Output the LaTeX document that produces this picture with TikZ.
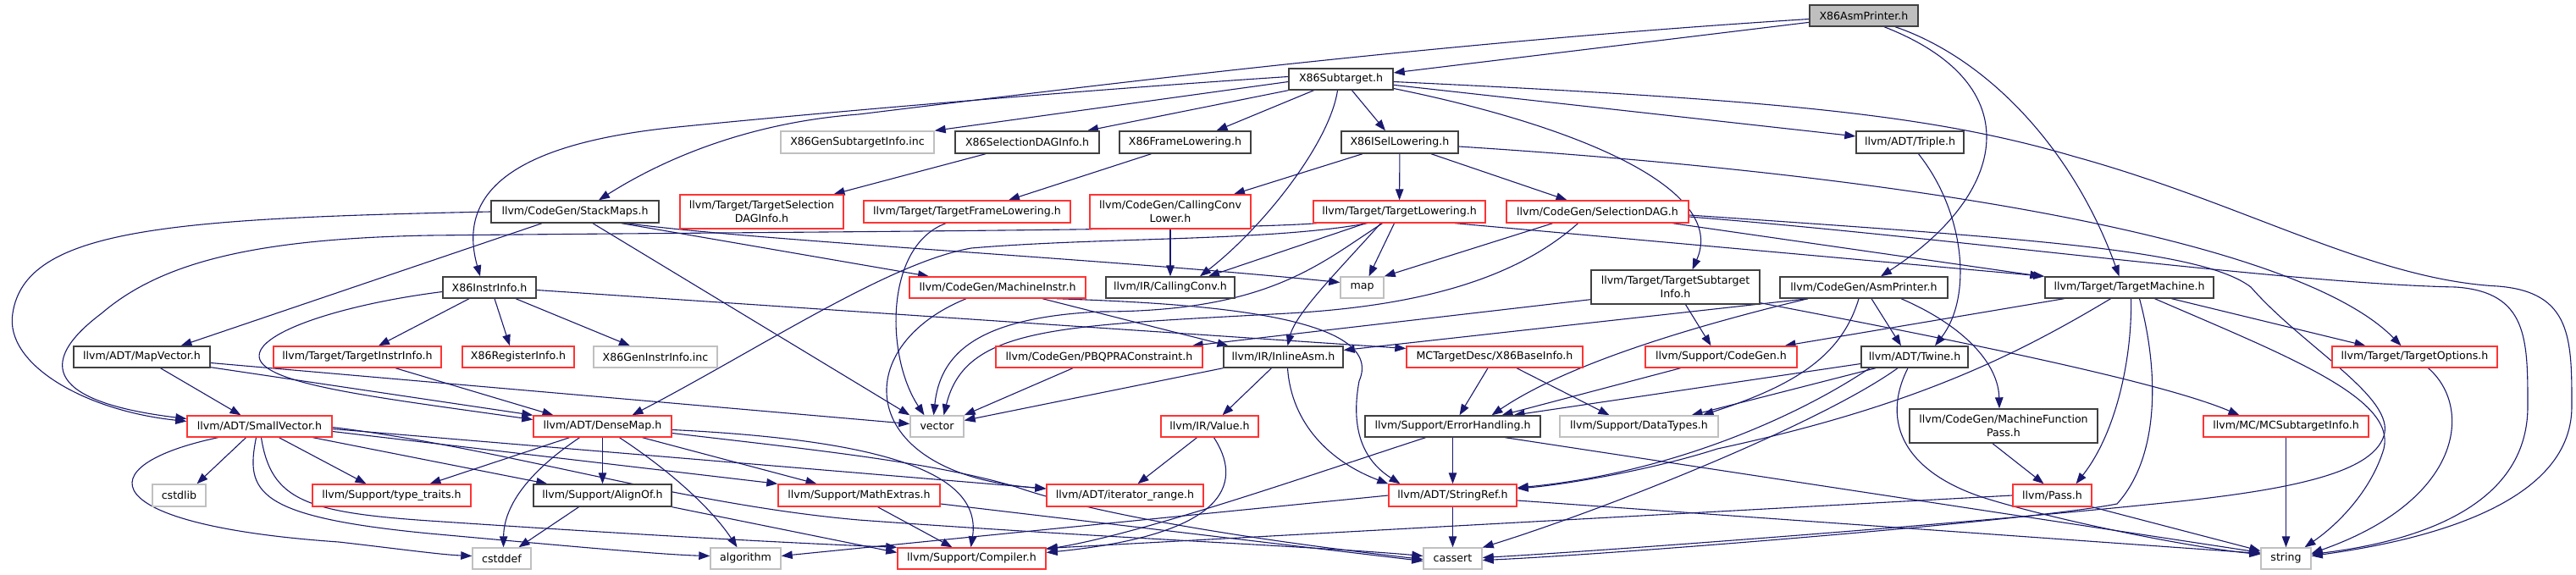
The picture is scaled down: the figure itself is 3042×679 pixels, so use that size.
\documentclass[tikz,border=0pt]{standalone}
\usepackage{fontspec}
\setmainfont{DejaVu Sans}
\usetikzlibrary{arrows.meta}
\definecolor{edgecol}{HTML}{191970}
\definecolor{redb}{HTML}{FF3333}
\definecolor{grayb}{HTML}{C0C0C0}
\definecolor{blkb}{HTML}{404040}
\definecolor{fillg}{HTML}{BFBFBF}
\pgfdeclarelayer{background}
\pgfsetlayers{background,main}
\tikzset{
  box/.style={draw, line width=1.4pt, fill=white, inner sep=0pt, align=center, text=black},
  blkbox/.style={box, draw=blkb},
  redbox/.style={box, draw=redb},
  graybox/.style={box, draw=grayb},
  sz/.style 2 args={minimum width=#1pt, minimum height=#2pt},
  dep/.style={draw=edgecol, line width=1.1pt, -{Triangle[length=13pt,width=9.5pt]}},
}
\begin{document}
\begin{tikzpicture}[x=1pt,y=-1pt,font=\fontsize{12.6pt}{15.5pt}\selectfont]
\useasboundingbox (0,0) rectangle (3042,679);
% nodes
\node[blkbox,fill=fillg,sz={128}{25}] (asmp) at (2201,18.5) {X86AsmPrinter.h};
\node[blkbox,sz={123}{25}] (subt) at (1583.5,93.5) {X86Subtarget.h};
\node[graybox,sz={181}{26}] (gensub) at (1012.5,168) {X86GenSubtargetInfo.inc};
\node[blkbox,sz={170}{26}] (seldag) at (1213,168) {X86SelectionDAGInfo.h};
\node[blkbox,sz={155}{26}] (framel) at (1399.5,168) {X86FrameLowering.h};
\node[blkbox,sz={138}{26}] (isel) at (1653,168) {X86ISelLowering.h};
\node[blkbox,sz={127}{26}] (triple) at (2255.5,168) {llvm/ADT/Triple.h};
\node[blkbox,sz={198}{26}] (stackmaps) at (679,250) {llvm/CodeGen/StackMaps.h};
\node[redbox,sz={193}{40}] (tsdi) at (899.5,250) {llvm/Target/TargetSelection\\DAGInfo.h};
\node[redbox,sz={244}{26}] (tfl) at (1142,250) {llvm/Target/TargetFrameLowering.h};
\node[redbox,sz={190}{40}] (ccl) at (1382,250) {llvm/CodeGen/CallingConv\\Lower.h};
\node[redbox,sz={203}{26}] (tlow) at (1652.5,250) {llvm/Target/TargetLowering.h};
\node[redbox,sz={215}{26}] (sdag) at (1886.5,250) {llvm/CodeGen/SelectionDAG.h};
\node[blkbox,sz={110}{25}] (instr) at (578,339.5) {X86InstrInfo.h};
\node[redbox,sz={208}{25}] (minstr) at (1178,339.5) {llvm/CodeGen/MachineInstr.h};
\node[blkbox,sz={152}{25}] (cconv) at (1382,339.5) {llvm/IR/CallingConv.h};
\node[graybox,sz={51}{25}] (map) at (1608.5,339.5) {map};
\node[blkbox,sz={199}{40}] (tsi) at (1978.5,339) {llvm/Target/TargetSubtarget\\Info.h};
\node[blkbox,sz={198}{25}] (asmprinter) at (2201,339.5) {llvm/CodeGen/AsmPrinter.h};
\node[blkbox,sz={199}{25}] (tm) at (2514.5,339.5) {llvm/Target/TargetMachine.h};
\node[blkbox,sz={161}{25}] (mapvec) at (167.5,421.5) {llvm/ADT/MapVector.h};
\node[redbox,sz={198}{25}] (tii) at (422,421.5) {llvm/Target/TargetInstrInfo.h};
\node[redbox,sz={132}{25}] (reginfo) at (612,421.5) {X86RegisterInfo.h};
\node[graybox,sz={146}{25}] (geninstr) at (774,421.5) {X86GenInstrInfo.inc};
\node[redbox,sz={244}{25}] (pbqp) at (1298,421.5) {llvm/CodeGen/PBQPRAConstraint.h};
\node[blkbox,sz={141}{25}] (inlineasm) at (1515.5,421.5) {llvm/IR/InlineAsm.h};
\node[redbox,sz={208}{25}] (baseinfo) at (1765,421.5) {MCTargetDesc/X86BaseInfo.h};
\node[redbox,sz={179}{25}] (cgen) at (2032.5,421.5) {llvm/Support/CodeGen.h};
\node[blkbox,sz={126}{25}] (twine) at (2261,421.5) {llvm/ADT/Twine.h};
\node[redbox,sz={195}{25}] (topts) at (2851.5,421.5) {llvm/Target/TargetOptions.h};
\node[redbox,sz={171}{25}] (smallvec) at (306.5,503.5) {llvm/ADT/SmallVector.h};
\node[redbox,sz={163}{25}] (densemap) at (711.5,503.5) {llvm/ADT/DenseMap.h};
\node[graybox,sz={63}{25}] (vector) at (1106.5,503.5) {vector};
\node[redbox,sz={115}{25}] (value) at (1428.5,503.5) {llvm/IR/Value.h};
\node[blkbox,sz={207}{25}] (errh) at (1715.5,503.5) {llvm/Support/ErrorHandling.h};
\node[graybox,sz={187}{25}] (dtypes) at (1935.5,503.5) {llvm/Support/DataTypes.h};
\node[blkbox,sz={222}{40}] (mfp) at (2366,503) {llvm/CodeGen/MachineFunction\\Pass.h};
\node[redbox,sz={195}{25}] (mcsti) at (2699.5,503.5) {llvm/MC/MCSubtargetInfo.h};
\node[graybox,sz={63}{26}] (cstdlib) at (211.5,585) {cstdlib};
\node[redbox,sz={187}{26}] (ttraits) at (462.5,585) {llvm/Support/type\_traits.h};
\node[blkbox,sz={163}{26}] (alignof) at (711.5,585) {llvm/Support/AlignOf.h};
\node[redbox,sz={191}{26}] (mathext) at (1014.5,585) {llvm/Support/MathExtras.h};
\node[redbox,sz={185}{26}] (itrange) at (1328.5,585) {llvm/ADT/iterator\_range.h};
\node[redbox,sz={151}{26}] (stringref) at (1715.5,585) {llvm/ADT/StringRef.h};
\node[redbox,sz={93}{26}] (pass) at (2423.5,585) {llvm/Pass.h};
\node[graybox,sz={69}{25}] (cstddef) at (592.5,659.5) {cstddef};
\node[graybox,sz={83}{25}] (algorithm) at (880.5,659.5) {algorithm};
\node[redbox,sz={175}{25}] (compiler) at (1147.5,659.5) {llvm/Support/Compiler.h};
\node[graybox,sz={69}{25}] (cassert) at (1715.5,659.5) {cassert};
\node[graybox,sz={59}{25}] (string) at (2699.5,659.5) {string};
% edges
\begin{pgfonlayer}{background}
% X86AsmPrinter.h
\draw[dep] (asmp) -- (subt);
\draw[dep] ([yshift=-4pt]asmp.west) .. controls (1700,50) and (1300,100) .. (1014,135) .. controls (880,145) and (780,190) .. ([xshift=28pt]stackmaps.north);
\draw[dep] ([xshift=24pt]asmp.south) .. controls (2400,100) and (2370,230) .. ([xshift=20pt]asmprinter.north);
\draw[dep] ([xshift=37pt]asmp.south) .. controls (2350,70) and (2450,180) .. ([xshift=-12pt]tm.north);
% X86Subtarget.h
\draw[dep] ([yshift=-3pt]subt.west) -- (gensub.north east);
\draw[dep] (subt.south west) -- ([xshift=71pt]seldag.north);
\draw[dep] ([xshift=-32pt]subt.south) -- ([xshift=37pt]framel.north);
\draw[dep] ([xshift=13pt]subt.south) -- ([xshift=-17pt]isel.north);
\draw[dep] ([xshift=-4pt]subt.south) .. controls (1570,170) and (1490,270) .. ([xshift=35pt]cconv.north);
\draw[dep] ([yshift=3pt]subt.west) .. controls (1300,105) and (1000,130) .. (800,150) .. controls (600,170) and (540,230) .. ([xshift=-11pt]instr.north);
\draw[dep] (subt) -- (triple);
\draw[dep] ([yshift=-11pt]subt.east) .. controls (1870,150) and (2040,225) .. ([xshift=20pt]tsi.north);
\draw[dep] ([yshift=-3pt]subt.east) .. controls (2100,118) and (2280,135) .. (2450,185) .. controls (2650,240) and (2800,330) .. (2950,338) .. controls (3037,345) and (3037,400) .. (3037,480) .. controls (3037,600) and (2850,640) .. ([yshift=3pt]string.east);
% second row
\draw[dep] ([xshift=-49pt]seldag.south) -- ([xshift=85pt]tsdi.north);
\draw[dep] ([xshift=-40pt]framel.south) -- ([xshift=49pt]tfl.north);
\draw[dep] ([xshift=-44pt]isel.south) -- ([xshift=75pt]ccl.north);
\draw[dep] (isel) -- (tlow);
\draw[dep] ([xshift=37pt]isel.south) -- ([xshift=-36pt]sdag.north);
\draw[dep] ([yshift=-5pt]isel.east) .. controls (2300,210) and (2720,290) .. ([xshift=-16pt]topts.north);
\draw[dep] ([xshift=10pt]triple.south) .. controls (2320,250) and (2330,350) .. ([xshift=24pt]twine.north);
% StackMaps
\draw[dep] (stackmaps.west) .. controls (200,258) and (30,270) .. (15,370) .. controls (5,430) and (100,485) .. ([yshift=6pt]smallvec.west);
\draw[dep] ([xshift=-39pt]stackmaps.south) -- ([xshift=46pt]mapvec.north);
\draw[dep] ([xshift=21pt]stackmaps.south) -- (vector.north west);
\draw[dep] ([xshift=61pt]stackmaps.south) .. controls (900,285) and (1300,305) .. ([yshift=6pt]map.west);
\draw[dep] ([xshift=55pt]stackmaps.south) -- ([xshift=-81pt]minstr.north);
% TargetFrameLowering, CallingConvLower
\draw[dep] ([xshift=-25pt]tfl.south) .. controls (1045,290) and (1045,420) .. ([xshift=-15pt]vector.north);
\draw[dep] (ccl) -- (cconv);
% TargetLowering
\draw[dep] ([xshift=-98pt]tlow.south) .. controls (1450,272) and (900,274) .. (507,278) .. controls (300,282) and (190,310) .. (120,370) .. controls (40,430) and (60,475) .. ([yshift=9pt]smallvec.west);
\draw[dep] ([xshift=-38pt]tlow.south) .. controls (1500,285) and (1300,280) .. (1147,293) .. controls (1050,310) and (900,410) .. ([xshift=35pt]densemap.north);
\draw[dep] ([xshift=-6pt]tlow.south) -- ([xshift=8pt]map.north);
\draw[dep] ([xshift=-40pt]tlow.south) -- ([xshift=45pt]cconv.north);
\draw[dep] ([xshift=-20pt]tlow.south) .. controls (1560,310) and (1500,368) .. (1300,368) .. controls (1150,375) and (1110,420) .. ([xshift=-4pt]vector.north);
\draw[dep] ([xshift=-22pt]tlow.south) .. controls (1580,320) and (1530,370) .. ([xshift=5pt]inlineasm.north);
\draw[dep] ([xshift=66pt]tlow.south) -- (tm.north west);
% SelectionDAG
\draw[dep] ([xshift=-53pt]sdag.south) -- (map.north east);
\draw[dep] ([xshift=-23pt]sdag.south) .. controls (1800,320) and (1700,360) .. (1521,370) .. controls (1250,385) and (1140,385) .. ([xshift=8pt]vector.north);
\draw[dep] ([xshift=89pt]sdag.south) -- ([xshift=-4pt]tm.north west);
\draw[dep] ([yshift=-6pt]sdag.east) .. controls (2300,280) and (2700,335) .. (2900,339) .. controls (2985,345) and (2985,400) .. (2985,480) .. controls (2985,600) and (2850,640) .. ([yshift=5pt]string.east);
\draw[dep] ([yshift=-4pt]sdag.east) .. controls (2400,282) and (2600,295) .. (2658,339) .. controls (2720,410) and (2830,470) .. (2815,515) .. controls (2800,560) and (2700,580) .. (2535,596) .. controls (2300,620) and (1900,650) .. ([yshift=1pt]cassert.east);
% X86InstrInfo
\draw[dep] ([xshift=-24pt]instr.south) -- ([xshift=25pt]tii.north);
\draw[dep] ([xshift=6pt]instr.south) -- ([xshift=-10pt]reginfo.north);
\draw[dep] ([xshift=31pt]instr.south) -- ([xshift=-30pt]geninstr.north);
\draw[dep] ([yshift=-3pt]instr.east) -- ([yshift=10pt]baseinfo.west);
\draw[dep] ([yshift=-5pt]instr.west) .. controls (400,360) and (295,395) .. (307,425) .. controls (320,455) and (450,470) .. ([yshift=8pt]densemap.west);
% MachineInstr
\draw[dep] ([xshift=-37pt]minstr.south) .. controls (1000,410) and (1010,560) .. ([yshift=8pt]itrange.west);
\draw[dep] ([xshift=53pt]minstr.south) -- ([xshift=-65pt]inlineasm.north);
\draw[dep] ([xshift=70pt]minstr.south) .. controls (1400,358) and (1640,370) .. (1605,450) .. controls (1592,520) and (1620,550) .. ([xshift=-62pt]stringref.north);
% TargetSubtargetInfo
\draw[dep] ([yshift=6pt]tsi.south west) -- ([xshift=-13pt]pbqp.north east);
\draw[dep] ([xshift=12pt]tsi.south) -- ([xshift=-12pt]cgen.north);
\draw[dep] ([yshift=2pt]tsi.south east) .. controls (2300,400) and (2550,450) .. ([xshift=-55pt]mcsti.north);
% AsmPrinter
\draw[dep] ([xshift=9pt]asmprinter.south) -- ([xshift=-16pt]twine.north);
\draw[dep] ([xshift=44pt]asmprinter.south) .. controls (2320,385) and (2360,430) .. ([xshift=-5pt]mfp.north);
\draw[dep] ([xshift=-66pt]asmprinter.south) -- ([yshift=8pt]inlineasm.east);
\draw[dep] ([xshift=-66pt]asmprinter.south) .. controls (2000,385) and (1850,430) .. ([xshift=46pt]errh.north);
\draw[dep] ([xshift=-6pt]asmprinter.south) .. controls (2175,420) and (2120,455) .. ([xshift=75pt]dtypes.north);
% TargetMachine
\draw[dep] ([xshift=-77pt]tm.south) -- ([xshift=75pt]cgen.north);
\draw[dep] ([xshift=-22pt]tm.south) .. controls (2380,420) and (2260,480) .. (2028,530) .. controls (1950,555) and (1850,572) .. ([yshift=8pt]stringref.east);
\draw[dep] ([xshift=2pt]tm.south) .. controls (2518,420) and (2500,510) .. ([xshift=28pt]pass.north);
\draw[dep] ([xshift=50pt]tm.south) -- ([xshift=-58pt]topts.north);
\draw[dep] ([xshift=12pt]tm.south) .. controls (2550,440) and (2550,540) .. (2500,595) .. controls (2400,615) and (1900,655) .. ([yshift=-2pt]cassert.east);
\draw[dep] ([xshift=30pt]tm.south) .. controls (2700,420) and (2830,470) .. (2815,530) .. controls (2800,580) and (2760,620) .. ([xshift=22pt]string.north);
% fourth row
\draw[dep] ([xshift=22pt]mapvec.south) -- ([xshift=-22pt]smallvec.north);
\draw[dep] ([yshift=1pt]mapvec.south east) -- (densemap.north west);
\draw[dep] ([yshift=-7pt]mapvec.east) -- ([yshift=3pt]vector.west);
\draw[dep] ([xshift=45pt]tii.south) -- ([xshift=-58pt]densemap.north);
\draw[dep] ([xshift=-31pt]pbqp.south) -- (vector.north east);
\draw[dep] (inlineasm.south west) -- ([yshift=7pt]vector.east);
\draw[dep] ([xshift=-14pt]inlineasm.south) -- ([xshift=15pt]value.north);
\draw[dep] ([xshift=5pt]inlineasm.south) .. controls (1525,500) and (1570,545) .. (stringref.north west);
\draw[dep] ([xshift=-8pt]baseinfo.south) -- ([xshift=8pt]errh.north);
\draw[dep] ([xshift=26pt]baseinfo.south) -- ([xshift=-35pt]dtypes.north);
\draw[dep] ([xshift=-48pt]cgen.south) -- ([xshift=58pt]errh.north);
\draw[dep] ([yshift=-8pt]twine.west) -- ([xshift=72pt]errh.north);
\draw[dep] ([xshift=-46pt]twine.south) -- ([xshift=62pt]dtypes.north);
\draw[dep] ([xshift=-53pt]twine.south) .. controls (2110,500) and (1960,560) .. ([yshift=9pt]stringref.east);
\draw[dep] ([xshift=-20pt]twine.south) .. controls (2150,500) and (1900,600) .. ([yshift=13pt]cassert.east);
\draw[dep] ([xshift=-8pt]twine.south) .. controls (2220,500) and (2250,560) .. (2350,590) .. controls (2450,620) and (2600,648) .. ([yshift=5pt]string.west);
\draw[dep] ([xshift=16pt]topts.south) .. controls (2920,480) and (2910,590) .. ([yshift=6pt]string.east);
% fifth row
\draw[dep] (mcsti) -- (string);
\draw[dep] ([xshift=-13pt]mfp.south) -- ([xshift=-10pt]pass.north);
\draw[dep] (errh) -- (stringref);
\draw[dep] ([xshift=-32pt]errh.south) .. controls (1550,560) and (1350,630) .. ([yshift=11pt]compiler.east);
\draw[dep] ([xshift=62pt]errh.south) -- ([yshift=7pt]string.west);
\draw[dep] ([xshift=-15pt]value.south) -- ([xshift=15pt]itrange.north);
\draw[dep] ([xshift=5pt]value.south) .. controls (1465,565) and (1460,630) .. ([yshift=7pt]compiler.east);
% SmallVector
\draw[dep] ([xshift=-16pt]smallvec.south) -- ([xshift=21pt]cstdlib.north);
\draw[dep] ([xshift=23pt]smallvec.south) -- ([xshift=-30pt]ttraits.north);
\draw[dep] ([xshift=63pt]smallvec.south) -- ([xshift=17pt]alignof.north west);
\draw[dep] ([yshift=-6pt]smallvec.east) -- (mathext.north west);
\draw[dep] ([yshift=-3pt]smallvec.east) -- ([yshift=8pt]itrange.west);
\draw[dep] ([xshift=2pt]smallvec.south) .. controls (320,590) and (360,605) .. (507,615) .. controls (700,628) and (900,640) .. (compiler.north west);
\draw[dep] ([yshift=-1pt]smallvec.east) .. controls (600,530) and (800,595) .. (1014,614) .. controls (1300,635) and (1550,645) .. ([yshift=3pt]cassert.west);
\draw[dep] ([xshift=-49pt]smallvec.south) .. controls (100,550) and (110,620) .. (400,640) .. controls (470,648) and (520,655) .. ([yshift=3pt]cstddef.west);
\draw[dep] ([xshift=-4pt]smallvec.south) .. controls (290,580) and (300,610) .. (507,630) .. controls (650,643) and (780,655) .. ([yshift=3pt]algorithm.west);
% DenseMap
\draw[dep] ([xshift=-39pt]densemap.south) -- ([xshift=45pt]ttraits.north);
\draw[dep] ([xshift=-27pt]densemap.south) .. controls (620,560) and (595,600) .. ([xshift=2pt]cstddef.north);
\draw[dep] (densemap) -- (alignof);
\draw[dep] ([xshift=20pt]densemap.south) .. controls (790,555) and (840,600) .. ([xshift=-10pt]algorithm.north);
\draw[dep] ([xshift=47pt]densemap.south) -- ([xshift=-50pt]mathext.north);
\draw[dep] ([yshift=-4pt]densemap.east) .. controls (1050,520) and (1160,560) .. ([xshift=-1pt]compiler.north);
\draw[dep] ([yshift=-8pt]densemap.east) .. controls (950,530) and (1100,545) .. (1200,575) .. controls (1300,610) and (1500,640) .. ([yshift=-1pt]cassert.west);
% bottom rows
\draw[dep] ([xshift=-28pt]alignof.south) -- ([xshift=20pt]cstddef.north);
\draw[dep] (alignof.south east) -- ([yshift=7pt]compiler.west);
\draw[dep] ([xshift=22pt]mathext.south) -- ([xshift=-23pt]compiler.north);
\draw[dep] ([yshift=-10pt]mathext.east) -- ([yshift=-3pt]cassert.west);
\draw[dep] (stringref) -- (cassert);
\draw[dep] ([yshift=-6pt]stringref.east) -- ([yshift=6pt]string.west);
\draw[dep] (stringref.west) -- ([yshift=3pt]algorithm.east);
\draw[dep] (pass.west) -- ([yshift=12pt]compiler.east);
\draw[dep] (pass.south east) -- ([yshift=9pt]string.west);
\end{pgfonlayer}
\end{tikzpicture}
\end{document}
